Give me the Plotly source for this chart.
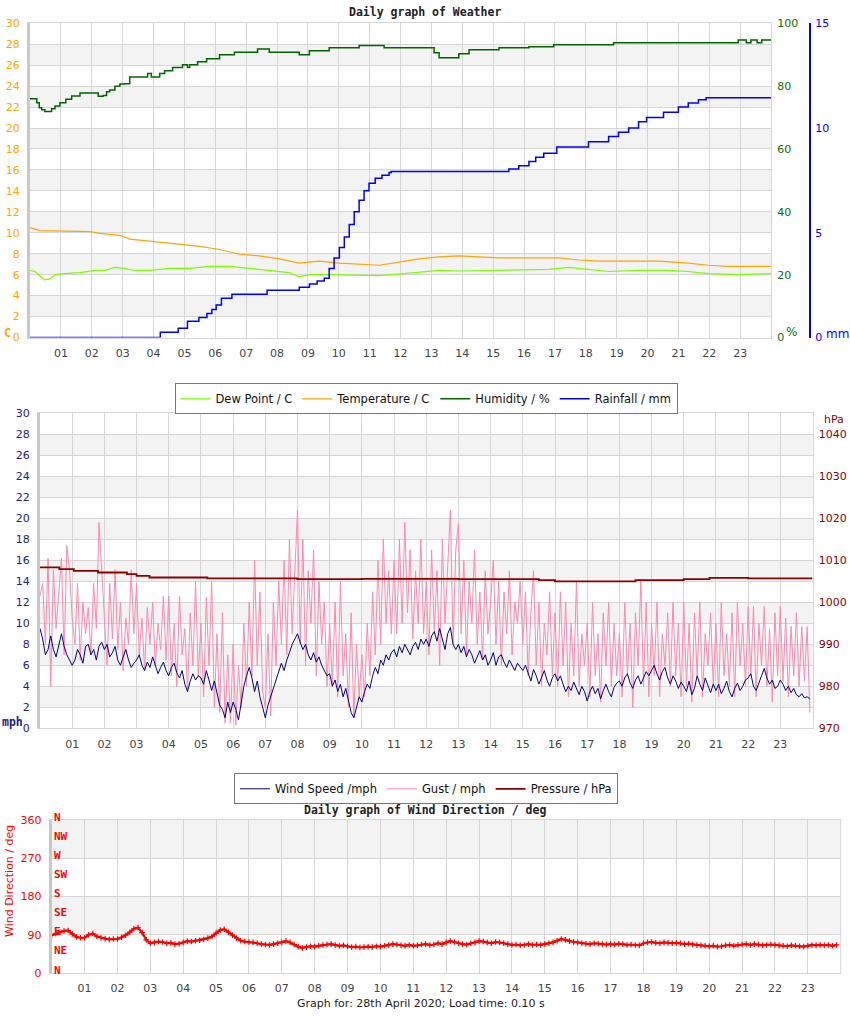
import plotly.graph_objects as go

W, H = 850, 1017

hour_labels = ["%02d" % h for h in range(1, 24)]

# ---------------- Chart 1: weather ----------------
dew_t = [0, 0.16, 0.32, 0.48, 0.65, 0.81, 1.13, 1.62, 2.10, 2.42, 2.75, 3.07, 3.39, 3.88, 4.52, 5.17, 5.82, 6.46, 7.11, 7.75,
         8.40, 8.72, 9.05, 9.69, 10.66, 11.31, 11.95, 12.60, 13.25, 13.89, 14.86, 15.83, 16.80, 17.45, 18.09, 18.74, 19.71, 20.68, 21.32, 21.97,
         22.94, 24.0]
dew_v = [6.4, 6.3, 5.9, 5.5, 5.6, 6.0, 6.1, 6.2, 6.4, 6.4, 6.7, 6.6, 6.4, 6.4, 6.6, 6.6, 6.8, 6.8, 6.6, 6.4,
         6.2, 5.8, 6.0, 6.0, 5.95, 5.9, 6.05, 6.2, 6.4, 6.35, 6.4, 6.5, 6.5, 6.7, 6.5, 6.3, 6.4, 6.4, 6.3, 6.1,
         6.0, 6.1]

temp_t = [0, 0.32, 1.94, 2.26, 2.91, 3.23, 3.88, 4.52, 5.49, 6.14, 6.79, 7.43, 8.08, 8.72, 9.37, 10.02, 10.66, 11.31, 11.95, 12.60,
          13.25, 13.89, 14.54, 15.19, 17.12, 17.77, 18.42, 20.36, 21.32, 21.97, 22.62, 24.0]
temp_v = [10.5, 10.2, 10.1, 9.95, 9.76, 9.4, 9.2, 9.0, 8.7, 8.4, 7.95, 7.8, 7.5, 7.1, 7.3, 7.1, 7.0, 6.9, 7.2, 7.5,
          7.7, 7.8, 7.7, 7.6, 7.6, 7.4, 7.3, 7.3, 7.1, 6.9, 6.8, 6.8]

hum_t = [0, 0.22, 0.30, 0.38, 0.48, 0.70, 0.81, 0.97, 1.16, 1.35, 1.62, 2.21, 2.37, 2.48, 2.58, 2.75, 2.91, 3.07, 3.23, 3.81,
         3.93, 4.20, 4.36, 4.62, 4.94, 5.10, 5.17, 5.43, 5.72, 6.14, 6.62, 7.37, 7.75, 8.72, 9.05, 9.69, 10.66, 11.47, 13.09, 13.25,
         13.89, 14.22, 15.19, 16.16, 16.96, 18.90, 22.94, 23.20, 23.35, 23.55, 23.70, 24.0]
hum_v = [76.0, 74.7, 73.1, 72.5, 71.9, 72.8, 73.7, 74.7, 75.8, 76.9, 77.8, 76.8, 77.0, 78.2, 78.8, 80.0, 80.7, 80.8, 82.9, 84.0,
         82.9, 84.0, 84.9, 85.9, 86.8, 85.9, 86.8, 87.8, 88.7, 90.0, 90.8, 91.8, 90.8, 90.0, 91.3, 92.2, 92.9, 92.2, 90.6, 89.0,
         90.3, 91.6, 92.2, 92.5, 93.2, 93.8, 94.7, 93.8, 94.7, 93.8, 94.7, 94.7]

rain_t = [0, 4.22, 4.80, 5.10, 5.47, 5.73, 5.89, 6.03, 6.20, 6.54, 7.68, 8.72, 9.05, 9.30, 9.53, 9.69, 9.85, 10.02, 10.18, 10.34,
          10.50, 10.66, 10.82, 10.98, 11.18, 11.40, 11.63, 11.70, 15.51, 15.83, 16.16, 16.38, 16.64, 17.06, 18.09, 18.74, 19.06, 19.39, 19.71, 19.97,
          20.52, 21.00, 21.32, 21.65, 21.90, 24.0]
rain_v = [0.0, 0.25, 0.44, 0.77, 0.96, 1.15, 1.34, 1.55, 1.87, 2.06, 2.25, 2.40, 2.55, 2.70, 2.83, 3.30, 3.80, 4.30, 4.80, 5.40,
          6.00, 6.55, 7.00, 7.36, 7.60, 7.74, 7.88, 7.93, 8.05, 8.20, 8.40, 8.60, 8.80, 9.10, 9.35, 9.60, 9.80, 10.00, 10.30, 10.50,
          10.75, 11.00, 11.20, 11.35, 11.45, 11.45]

# ---------------- Chart 2: wind ----------------
gust_by_hour = [
    [12.6, 13.8, 8.0, 16.2, 4.0, 15.1, 9.5, 12.6, 16.2, 7.0, 17.4, 15.1],
    [10.5, 8.0, 13.8, 6.5, 12.0, 9.0, 11.5, 7.0, 13.8, 9.5, 19.6, 15.1],
    [11.0, 6.0, 13.8, 8.5, 15.1, 7.5, 12.0, 5.5, 10.5, 8.0, 15.1, 9.0],
    [13.8, 7.0, 10.5, 5.5, 11.5, 8.0, 12.0, 6.0, 10.0, 7.5, 12.6, 6.5],
    [12.6, 5.0, 10.0, 4.0, 12.6, 7.0, 9.5, 3.5, 11.0, 6.0, 14.0, 5.0],
    [10.0, 3.0, 12.5, 6.0, 14.0, 2.0, 9.0, 1.5, 11.0, 0.5, 7.0, 0.5],
    [8.0, 0.3, 6.0, 2.0, 10.0, 4.0, 12.0, 5.0, 16.0, 6.0, 13.0, 3.5],
    [2.0, 9.0, 1.2, 12.0, 6.0, 14.0, 8.0, 16.0, 7.0, 18.0, 9.0, 15.0],
    [20.8, 8.0, 18.0, 6.0, 15.0, 10.0, 17.0, 5.0, 14.0, 8.0, 12.0, 4.0],
    [10.0, 4.0, 12.0, 3.0, 14.0, 5.0, 9.0, 2.0, 11.0, 1.0, 8.0, 3.0],
    [7.0, 3.0, 10.0, 5.0, 13.0, 7.0, 16.0, 8.0, 18.0, 10.0, 15.0, 9.0],
    [16.0, 9.0, 18.0, 10.0, 19.6, 11.0, 17.0, 8.5, 15.0, 10.0, 18.0, 9.0],
    [14.0, 7.0, 17.0, 9.0, 15.0, 6.0, 18.0, 10.0, 16.0, 20.8, 8.0, 17.0],
    [19.5, 9.0, 16.0, 7.0, 14.0, 10.0, 17.0, 8.0, 13.0, 6.5, 15.0, 9.0],
    [12.0, 16.0, 8.0, 14.0, 6.0, 13.0, 9.0, 15.0, 7.0, 12.0, 10.0, 14.0],
    [8.0, 13.0, 5.0, 11.0, 15.0, 6.0, 12.0, 4.0, 10.0, 7.0, 13.0, 5.0],
    [11.0, 4.0, 13.0, 6.0, 12.0, 3.0, 10.0, 5.0, 14.0, 4.0, 9.0, 6.0],
    [10.0, 3.0, 12.0, 5.0, 9.0, 2.5, 11.0, 6.0, 12.0, 4.0, 10.0, 5.0],
    [9.0, 3.0, 12.0, 5.0, 10.0, 2.0, 11.0, 6.0, 14.0, 4.0, 12.0, 3.0],
    [10.0, 5.0, 12.0, 3.0, 9.0, 6.0, 11.0, 4.0, 12.0, 5.0, 10.0, 3.0],
    [12.0, 4.0, 10.0, 2.5, 11.0, 5.0, 12.0, 3.0, 9.0, 6.0, 11.0, 4.0],
    [10.0, 3.0, 12.0, 5.0, 9.0, 4.0, 11.0, 3.0, 12.0, 6.0, 10.0, 4.0],
    [11.6, 5.0, 11.6, 3.0, 10.0, 6.0, 11.6, 4.0, 9.5, 2.5, 11.0, 5.0],
    [11.6, 4.5, 10.5, 3.0, 9.7, 5.0, 11.0, 4.0, 9.7, 4.5, 9.7, 1.5],
]
wind_by_hour = [
    [9.5, 8.5, 7.0, 7.5, 8.8, 7.5, 6.8, 8.0, 9.0, 7.8, 7.0, 6.5],
    [6.0, 6.5, 7.5, 7.0, 6.2, 7.8, 8.0, 7.0, 7.5, 6.5, 7.8, 8.2],
    [7.5, 8.0, 6.8, 7.2, 7.8, 6.5, 6.0, 6.8, 7.5, 6.5, 5.8, 6.2],
    [6.5, 7.0, 6.0, 5.5, 6.3, 5.8, 6.8, 6.0, 5.2, 5.8, 6.3, 5.5],
    [5.0, 5.8, 6.2, 5.3, 4.8, 5.5, 4.2, 3.5, 4.5, 5.2, 4.6, 5.0],
    [4.8, 4.2, 5.5, 4.6, 3.6, 4.5, 3.2, 2.2, 1.8, 1.0, 2.5, 1.5],
    [2.5, 1.8, 0.8, 2.5, 4.0, 5.0, 5.8, 4.8, 3.5, 4.5, 3.0, 2.0],
    [1.0, 2.2, 3.0, 4.0, 4.8, 5.5, 6.2, 5.5, 6.5, 7.2, 8.0, 8.5],
    [9.0, 8.2, 7.5, 8.0, 7.0, 6.5, 7.2, 6.3, 6.8, 6.0, 5.5, 5.0],
    [5.2, 4.0, 4.6, 3.5, 4.2, 3.0, 3.8, 2.5, 1.5, 1.0, 2.0, 3.0],
    [2.5, 3.5, 4.2, 3.8, 5.0, 5.8, 5.2, 6.5, 6.0, 7.0, 6.5, 7.2],
    [7.5, 6.8, 7.8, 7.2, 8.0, 7.5, 7.0, 7.8, 8.2, 7.5, 8.5, 8.0],
    [8.5, 7.8, 8.8, 9.2, 8.3, 9.5, 8.6, 7.5, 9.0, 9.6, 8.0, 7.5],
    [8.0, 7.2, 7.8, 6.8, 7.5, 7.0, 6.2, 6.8, 7.4, 6.5, 7.0, 6.0],
    [6.5, 7.2, 6.0, 6.8, 7.0, 6.3, 5.8, 6.5, 6.0, 5.5, 6.2, 5.8],
    [5.5, 6.0, 5.2, 4.5, 5.6, 5.0, 4.2, 4.8, 5.5, 4.6, 4.0, 4.8],
    [5.2, 4.5, 5.0, 4.2, 3.5, 4.0, 3.6, 4.4, 3.8, 3.2, 4.0, 3.5],
    [2.6, 3.5, 4.0, 3.3, 3.8, 2.8, 3.6, 4.2, 3.5, 3.0, 3.9, 4.3],
    [4.5, 4.0, 4.8, 5.2, 4.3, 3.8, 4.6, 5.0, 4.2, 4.8, 5.4, 5.0],
    [5.5, 6.0, 5.2, 4.6, 5.4, 5.8, 4.8, 4.2, 5.0, 4.5, 3.8, 4.4],
    [4.0, 3.5, 4.5, 3.2, 3.8, 5.0, 4.2, 3.6, 4.8, 4.0, 3.4, 4.2],
    [3.6, 4.2, 3.3, 3.8, 4.5, 3.5, 3.0, 3.8, 4.3, 3.6, 4.0, 4.6],
    [4.8, 5.2, 4.0, 3.6, 4.4, 5.0, 5.7, 4.8, 4.2, 4.6, 3.8, 4.0],
    [4.6, 4.2, 3.6, 4.0, 3.4, 3.8, 3.2, 3.0, 3.3, 2.9, 3.0, 2.8],
]
pres_t = [0, 0.6, 1.05, 1.8, 2.7, 3.0, 3.4, 5.2, 8.0, 10.0, 13.0, 15.5, 16.0, 17.5, 18.5, 20.0, 20.8, 22.0, 24.0]
pres_v = [1008.3, 1007.9, 1007.5, 1007.1, 1006.7, 1006.3, 1005.9, 1005.7, 1005.5, 1005.6, 1005.5, 1005.3, 1005.0, 1005.0,
          1005.3, 1005.5, 1005.8, 1005.7, 1005.7]

# ---------------- Chart 3: wind direction ----------------
dir_by_hour = [
    [89, 93, 96, 99, 100, 92, 85, 83],
    [83, 90, 93, 86, 83, 81, 79, 80],
    [80, 84, 89, 96, 104, 107, 95, 78],
    [70, 72, 74, 73, 70, 71, 68, 69],
    [72, 75, 74, 76, 77, 79, 82, 86],
    [94, 101, 103, 96, 89, 82, 76, 74],
    [73, 72, 70, 68, 67, 66, 68, 70],
    [72, 75, 72, 67, 62, 59, 61, 63],
    [62, 64, 66, 67, 68, 66, 64, 65],
    [63, 61, 62, 60, 61, 62, 61, 63],
    [62, 64, 66, 68, 67, 65, 64, 66],
    [64, 65, 67, 68, 66, 67, 70, 68],
    [72, 75, 73, 70, 68, 67, 70, 72],
    [75, 74, 72, 70, 73, 72, 70, 68],
    [66, 67, 65, 66, 68, 66, 67, 66],
    [68, 70, 72, 76, 80, 78, 75, 73],
    [72, 70, 69, 68, 70, 69, 68, 67],
    [68, 67, 69, 68, 66, 67, 66, 65],
    [70, 72, 73, 71, 70, 72, 71, 70],
    [71, 70, 68, 69, 67, 66, 65, 64],
    [63, 64, 62, 63, 65, 66, 64, 66],
    [67, 68, 66, 68, 67, 65, 66, 67],
    [66, 65, 64, 63, 65, 64, 63, 62],
    [64, 66, 65, 66, 65, 66, 64, 66],
]
compass_labels = ["N", "NE", "E", "SE", "S", "SW", "W", "NW", "N"]
compass_deg = [0, 45, 90, 135, 180, 225, 270, 315, 360]

gust = [v for row in gust_by_hour for v in row]
wind = [v for row in wind_by_hour for v in row]
t5 = [m / 60 for m in range(0, 1440, 5)]
wdir = [v for row in dir_by_hour for v in row]
tdir = [h + k / 8 for h in range(24) for k in range(8)]

# ---------------- layout helpers ----------------
def xdom(a, b):
    return [a / W, b / W]

def ydom(top, bottom):
    return [1 - bottom / H, 1 - top / H]

GRID = "#d6d6d6"
BAND = "#f3f3f3"
FONT = "DejaVu Sans"
MONO = "DejaVu Sans Mono"

fig = go.Figure()

# chart 1 traces
fig.add_trace(go.Scatter(x=dew_t, y=dew_v, mode="lines", name="Dew Point / C",
                         line=dict(color="#7cfc00", width=1.2), xaxis="x", yaxis="y", legend="legend"))
fig.add_trace(go.Scatter(x=temp_t, y=temp_v, mode="lines", name="Temperature / C",
                         line=dict(color="#ffa500", width=1.2), xaxis="x", yaxis="y", legend="legend"))
fig.add_trace(go.Scatter(x=hum_t, y=hum_v, mode="lines", name="Humidity / %", line_shape="hv",
                         line=dict(color="#006400", width=1.5), xaxis="x", yaxis="y2", legend="legend"))
fig.add_trace(go.Scatter(x=rain_t, y=rain_v, mode="lines", name="Rainfall / mm", line_shape="hv",
                         line=dict(color="#0000ff", width=1.5), xaxis="x", yaxis="y3", legend="legend"))

# chart 2 traces
fig.add_trace(go.Scatter(x=t5, y=gust, mode="lines", name="Gust / mph", legendrank=2,
                         line=dict(color="#ff88aa", width=1), xaxis="x2", yaxis="y4", legend="legend2"))
fig.add_trace(go.Scatter(x=t5, y=wind, mode="lines", name="Wind Speed /mph", legendrank=1,
                         line=dict(color="#000080", width=1), xaxis="x2", yaxis="y4", legend="legend2"))
fig.add_trace(go.Scatter(x=pres_t, y=pres_v, mode="lines", name="Pressure / hPa", legendrank=3, line_shape="hv",
                         line=dict(color="#8b0000", width=1.8), xaxis="x2", yaxis="y5", legend="legend2"))

# chart 3 trace
fig.add_trace(go.Scatter(x=tdir, y=wdir, mode="lines+markers", name="Wind Direction", showlegend=False,
                         line=dict(color="#ff0000", width=2.2),
                         marker=dict(symbol="cross-thin", size=4, line=dict(color="#ff0000", width=1.2)),
                         xaxis="x3", yaxis="y6"))

def xaxis_cfg(dom, anchor):
    return dict(domain=dom, anchor=anchor, range=[0, 24], tickvals=list(range(0, 25)),
                ticktext=[""] + hour_labels + [""], showgrid=True, gridcolor=GRID, gridwidth=1,
                zeroline=False, ticks="outside", ticklen=5, tickcolor="rgba(0,0,0,0)",
                tickfont=dict(family=FONT, size=11, color="#444"), automargin=False,
                showline=True, linecolor=GRID, linewidth=1, mirror=True, fixedrange=True)

def yleft_cfg(dom, anchor, rng, vals, color):
    return dict(domain=dom, anchor=anchor, range=rng, tickvals=vals, showgrid=True, gridcolor=GRID,
                zeroline=False, ticks="outside", ticklen=5, tickcolor="rgba(0,0,0,0)",
                tickfont=dict(family=FONT, size=11, color=color), automargin=False,
                showline=True, linecolor="#c8c8c8", linewidth=3, fixedrange=True)

layout = dict(
    width=W, height=H, margin=dict(l=0, r=0, t=0, b=0, pad=0, autoexpand=False),
    paper_bgcolor="white", plot_bgcolor="white", showlegend=True,
    xaxis=xaxis_cfg(xdom(30, 771), "y"),
    yaxis=yleft_cfg(ydom(23.3, 337.5), "x", [0, 30], list(range(0, 31, 2)), "#ffa500"),
    yaxis2=dict(overlaying="y", anchor="x", side="right", range=[0, 100], tickvals=[0, 20, 40, 60, 80, 100],
                showgrid=False, zeroline=False, ticks="outside", ticklen=3, tickcolor="rgba(0,0,0,0)",
                tickfont=dict(family=FONT, size=11, color="#0a6e0a"), automargin=False,
                showline=True, linecolor=GRID, linewidth=1, fixedrange=True),
    yaxis3=dict(overlaying="y", anchor="free", position=810 / W, side="right", range=[0, 15],
                tickvals=[0, 5, 10, 15], showgrid=False, zeroline=False, ticks="outside", ticklen=2,
                tickcolor="rgba(0,0,0,0)", tickfont=dict(family=FONT, size=11, color="#0000ff"),
                automargin=False, showline=True, linecolor="#0000ff", linewidth=2, fixedrange=True),
    xaxis2=xaxis_cfg(xdom(40, 812.5), "y4"),
    yaxis4=yleft_cfg(ydom(413.3, 728.3), "x2", [0, 30], list(range(0, 31, 2)), "#1c1c8a"),
    yaxis5=dict(overlaying="y4", anchor="x2", side="right", range=[970, 1045],
                tickvals=list(range(970, 1041, 10)), showgrid=False, zeroline=False, ticks="outside",
                ticklen=3, tickcolor="rgba(0,0,0,0)", tickfont=dict(family=FONT, size=11, color="#8b0000"),
                automargin=False, showline=True, linecolor=GRID, linewidth=1, fixedrange=True),
    xaxis3=xaxis_cfg(xdom(51.7, 840.7), "y6"),
    yaxis6=yleft_cfg(ydom(820, 973), "x3", [0, 360], [0, 90, 180, 270, 360], "#ff0000"),
    legend=dict(orientation="h", x=426 / W, xanchor="center", y=1 - 383.3 / H, yanchor="top",
                bordercolor="#777", borderwidth=1, bgcolor="white", itemwidth=30,
                font=dict(family=FONT, size=11.5, color="#111")),
    legend2=dict(orientation="h", x=426 / W, xanchor="center", y=1 - 773.3 / H, yanchor="top",
                 bordercolor="#777", borderwidth=1, bgcolor="white", itemwidth=30,
                 font=dict(family=FONT, size=11.5, color="#111")),
)
fig.update_layout(**layout)

# grey bands
shapes = []
for lo in range(2, 30, 4):
    shapes.append(dict(type="rect", xref="x domain", yref="y", x0=0, x1=1, y0=lo, y1=lo + 2,
                       fillcolor=BAND, line=dict(width=0), layer="below"))
    shapes.append(dict(type="rect", xref="x2 domain", yref="y4", x0=0, x1=1, y0=lo, y1=lo + 2,
                       fillcolor=BAND, line=dict(width=0), layer="below"))
for lo in (90, 270):
    shapes.append(dict(type="rect", xref="x3 domain", yref="y6", x0=0, x1=1, y0=lo, y1=lo + 90,
                       fillcolor=BAND, line=dict(width=0), layer="below"))
shapes.append(dict(type="line", xref="x3 domain", yref="y6 domain", x0=1, x1=1, y0=0, y1=1,
                   line=dict(color=GRID, width=1)))
fig.update_layout(shapes=shapes)

ann = []
def txt(s, x, y, size=11, color="#222", family=FONT, xanchor="center", **kw):
    d = dict(text=s, x=x / W, y=1 - y / H, xref="paper", yref="paper", showarrow=False,
             xanchor=xanchor, yanchor="middle", font=dict(family=family, size=size, color=color))
    d.update(kw)
    ann.append(d)

txt("<b>Daily graph of Weather</b>", 425, 12, size=11.5, family=MONO)
txt("<b>C</b>", 2, 333, size=12, color="#ffa500", family=MONO, xanchor="left")
txt("%", 784, 332, size=12, color="#0a6e0a", xanchor="left")
txt("mm", 824, 334, size=12, color="#0000ff", xanchor="left")
txt("hPa", 822, 419, size=11, color="#8b0000", xanchor="left")
txt("<b>mph</b>", 0, 722, size=11.5, color="#1c1c8a", family=MONO, xanchor="left")
txt("<b>Daily graph of Wind Direction / deg</b>", 424.5, 810, size=11.5, family=MONO)
txt("Wind Direction / deg", 9, 881, size=11, color="#ff0000", textangle=-90)
txt("Graph for: 28th April 2020; Load time: 0.10 s", 420.5, 1003, size=11, color="#222")

for lab, deg in zip(compass_labels, compass_deg):
    ann.append(dict(text="<b>%s</b>" % lab, x=51.5 / W, y=deg, xref="paper", yref="y6", showarrow=False,
                    xanchor="left", yanchor="middle", yshift=3,
                    font=dict(family=MONO, size=11, color="#ff0000")))

fig.update_layout(annotations=ann)

fig.write_html("out.html", config={"displayModeBar": False},
               post_script="document.body.style.margin='0px';document.body.style.overflow='hidden';")
